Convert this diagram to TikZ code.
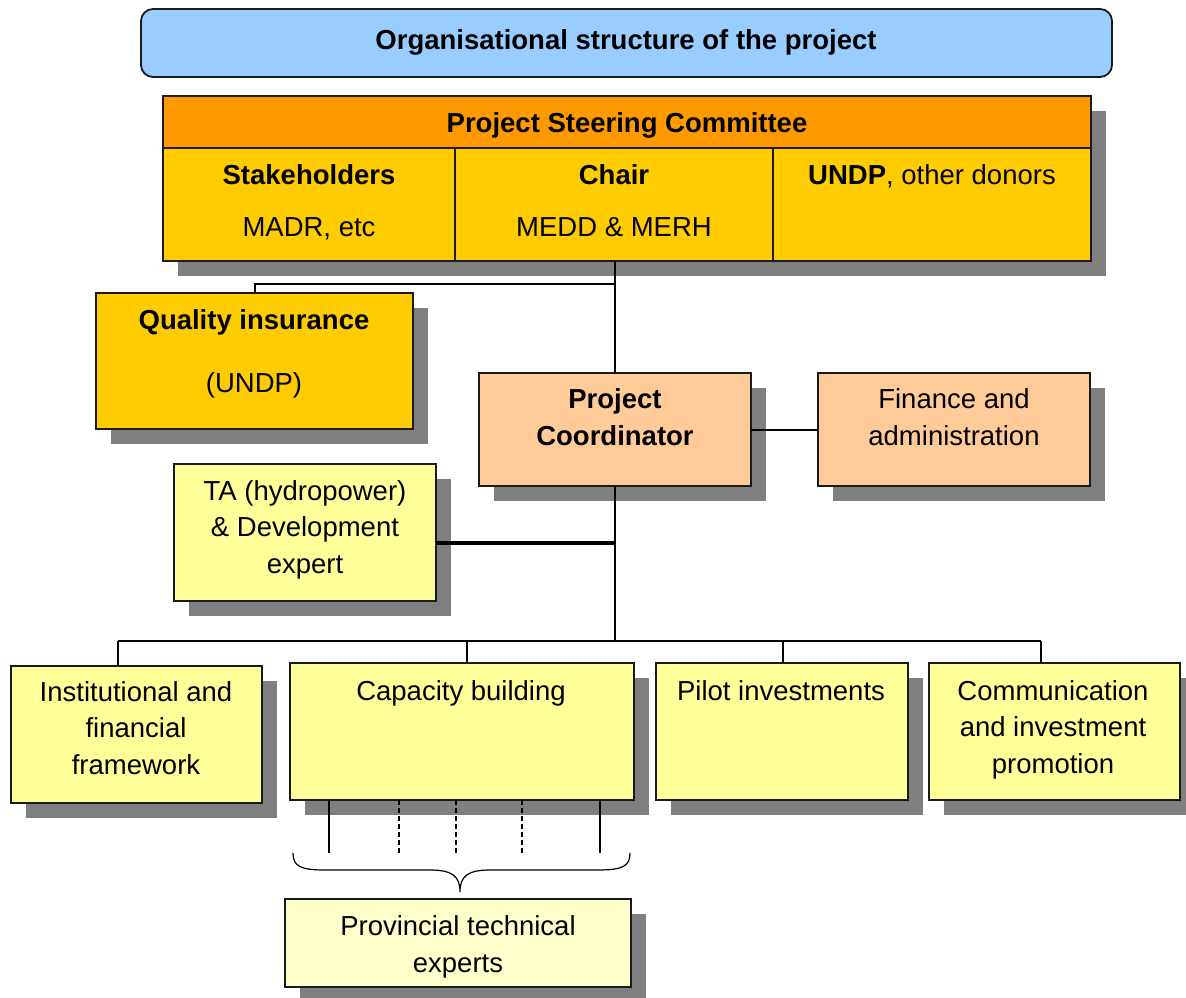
\documentclass[tikz,border=0pt]{standalone}
\usepackage{fontspec}
\setmainfont{Liberation Sans}
\usetikzlibrary{shadows}

\definecolor{titleblue}{HTML}{99CCFF}
\definecolor{pscorange}{HTML}{FF9900}
\definecolor{pscgold}{HTML}{FFCC00}
\definecolor{peach}{HTML}{FFCC99}
\definecolor{paleyellow}{HTML}{FFFF99}
\definecolor{cream}{HTML}{FFFFCC}
\definecolor{shade}{HTML}{7F7F7F}
\definecolor{edge}{HTML}{1A1A1A}

\tikzset{
  box/.style={draw=edge, line width=1.8pt, anchor=north west, inner sep=0pt, outer sep=0pt},
  shadowed/.style={drop shadow={shadow xshift=15pt, shadow yshift=-15pt, fill=shade, opacity=1}},
  lbl/.style={anchor=base, align=center, inner sep=0pt, font=\fontsize{27.5}{37}\selectfont},
  blbl/.style={lbl, font=\fontsize{27.5}{37}\selectfont\bfseries},
  link/.style={line width=2pt, black},
  thicklink/.style={line width=3.5pt, black},
  tick/.style={line width=1.6pt, black},
  dashtick/.style={tick, dash pattern=on 5pt off 3pt},
  bracestroke/.style={line width=1.2pt, black},
}

\begin{document}
\begin{tikzpicture}[x=1pt, y=-1pt]
\clip (0,0) rectangle (1186,998);

% title banner
\node[box, rounded corners=12pt, fill=titleblue, minimum width=971pt, minimum height=68pt] (title) at (141,9) {};
\node[blbl] (titletext) at (626,49) {Organisational structure of the project};

% steering committee block
\node[box, draw=none, shadowed, fill=pscgold, minimum width=928pt, minimum height=165pt] (pscframe) at (163,96) {};
\node[box, fill=pscorange, minimum width=928pt, minimum height=52pt] (psc) at (163,96) {};
\node[box, fill=pscgold, minimum width=292pt, minimum height=113pt] (stake) at (163,148) {};
\node[box, fill=pscgold, minimum width=318pt, minimum height=113pt] (chair) at (455,148) {};
\node[box, fill=pscgold, minimum width=318pt, minimum height=113pt] (donors) at (773,148) {};
\node[blbl] (psctext) at (627,132) {Project Steering Committee};
\node[blbl] (staketext) at (309,184) {Stakeholders};
\node[lbl] (stakesub) at (309,236) {MADR, etc};
\node[blbl] (chairtext) at (614,184) {Chair};
\node[lbl] (chairsub) at (614,236) {MEDD \& MERH};
\node[lbl] (donorstext) at (932,184) {{\bfseries UNDP}, other donors};

% quality assurance
\node[box, shadowed, fill=pscgold, minimum width=317pt, minimum height=136pt] (qi) at (96,293) {};
\node[blbl] (qitext) at (254,329) {Quality insurance};
\node[lbl] (qisub) at (254,392) {(UNDP)};

% coordination (multi-line labels sit on the baseline of their last line)
\node[box, shadowed, fill=peach, minimum width=272pt, minimum height=113pt] (pc) at (479,373) {};
\node[blbl] (pctext) at (615,445) {Project\\Coordinator};
\node[box, shadowed, fill=peach, minimum width=272pt, minimum height=113pt] (fin) at (818,373) {};
\node[lbl] (fintext) at (954,445) {Finance and\\administration};

% technical assistance
\node[box, shadowed, fill=paleyellow, minimum width=262pt, minimum height=137pt] (ta) at (174,464) {};
\node[lbl, font=\fontsize{27.5}{36.5}\selectfont] (tatext) at (305,573) {TA (hydropower)\\\& Development\\expert};

% components
\node[box, shadowed, fill=paleyellow, minimum width=251pt, minimum height=137pt] (inst) at (11,666) {};
\node[lbl, font=\fontsize{27.5}{36.5}\selectfont] (insttext) at (136,774) {Institutional and\\financial\\framework};
\node[box, shadowed, fill=paleyellow, minimum width=344pt, minimum height=137pt] (cap) at (290,663) {};
\node[lbl] (captext) at (461,700) {Capacity building};
\node[box, shadowed, fill=paleyellow, minimum width=252pt, minimum height=137pt] (pilot) at (656,663) {};
\node[lbl] (pilottext) at (781,700) {Pilot investments};
\node[box, shadowed, fill=paleyellow, minimum width=251pt, minimum height=137pt] (comm) at (929,663) {};
\node[lbl, font=\fontsize{27.5}{36.5}\selectfont] (commtext) at (1053,773) {Communication\\and investment\\promotion};

% provincial experts
\node[box, shadowed, fill=cream, minimum width=346pt, minimum height=88pt] (prov) at (285,899) {};
\node[lbl] (provtext) at (458,972) {Provincial technical\\experts};

% junction points
\coordinate (qibus) at (615,284);
\coordinate (tajoin) at (615,543);
\coordinate (busmid) at (615,641);
\coordinate (d1) at (118,641);
\coordinate (d2) at (467,641);
\coordinate (d3) at (783,641);
\coordinate (d4) at (1041,641);
\coordinate (t1) at (329,853);
\coordinate (t2) at (399,853);
\coordinate (t3) at (456,853);
\coordinate (t4) at (522,853);
\coordinate (t5) at (600,853);
\coordinate (brl) at (293,853);
\coordinate (brr) at (630,853);
\coordinate (brtip) at (460,892);

% connectors
\draw[link] (pc.north |- chair.south) -- (pc.north);
\draw[link] (qi.north) |- (qibus);
\draw[link] (pc.east) -- (fin.west);
\draw[thicklink] (ta.east |- tajoin) -- (tajoin);
\draw[link] (pc.south) -- (busmid);
\draw[link] (d1) -- (d4);
\draw[link] (d1) -- (d1 |- inst.north);
\draw[link] (d2) -- (d2 |- cap.north);
\draw[link] (d3) -- (d3 |- pilot.north);
\draw[link] (d4) -- (d4 |- comm.north);

% links from capacity building to the provincial experts
\draw[tick] (t1 |- cap.south) -- (t1);
\draw[dashtick] (t2 |- cap.south) -- (t2);
\draw[dashtick] (t3 |- cap.south) -- (t3);
\draw[dashtick] (t4 |- cap.south) -- (t4);
\draw[tick] (t5 |- cap.south) -- (t5);

% curly brace
\draw[bracestroke] (brl) .. controls (293,866) and (300,870) .. (325,870)
  -- (430,870) .. controls (452,870) and (460,876) .. (brtip)
  .. controls (460,876) and (468,870) .. (490,870)
  -- (598,870) .. controls (623,870) and (630,866) .. (brr);
\end{tikzpicture}
\end{document}
